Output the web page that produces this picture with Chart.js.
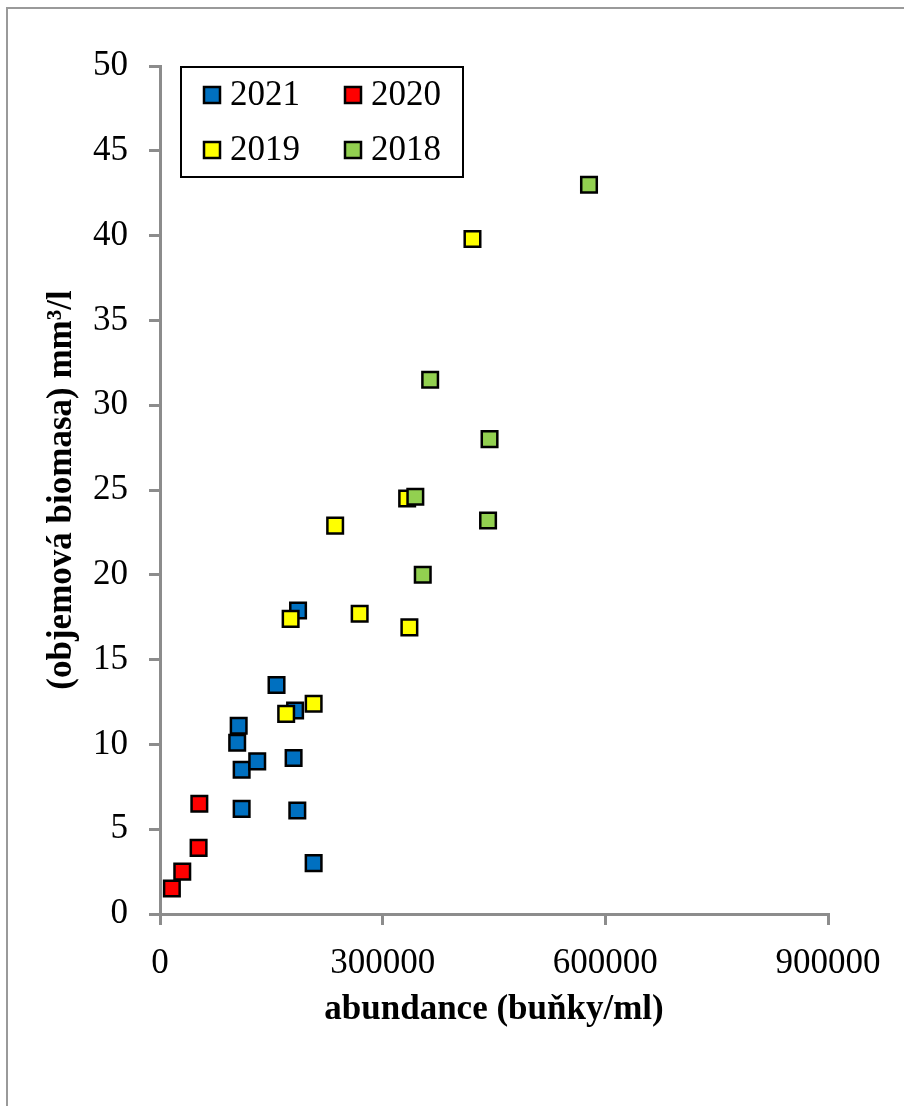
<!DOCTYPE html>
<html>
<head>
<meta charset="utf-8">
<script src="https://cdn.jsdelivr.net/npm/chart.js@4/dist/chart.umd.min.js"></script>
<style>
  html, body { margin: 0; padding: 0; background: #fff; }
  canvas { display: block; }
</style>
</head>
<body>
<canvas id="bio-chart" width="904" height="1106"></canvas>
<script>
// values: [abundance (cells/ml), biomass mm3/l]
const years = ['2021', '2020', '2019', '2018'];
const colors = ['#0070C0', '#FF0000', '#FFFF00', '#92D050'];

const abund2021 = [207000, 185000, 110000, 110000, 131000, 180000, 104000, 106000, 182000, 157000, 186000];
const biom2021 = [3.0, 6.1, 6.2, 8.5, 9.0, 9.2, 10.1, 11.1, 12.0, 13.5, 17.9];

const abund2020 = [16000, 30000, 52000, 53000];
const biom2020 = [1.5, 2.5, 3.9, 6.5];

const abund2019 = [170000, 207000, 176000, 269000, 336000, 236000, 333000, 421000];
const biom2019 = [11.8, 12.4, 17.4, 17.7, 16.9, 22.9, 24.5, 39.8];

const abund2018 = [354000, 344000, 364000, 444000, 442000, 578000];
const biom2018 = [20.0, 24.6, 31.5, 28.0, 23.2, 43.0];

const xTicks = [0, 300000, 600000, 900000];

const toPoints = (xs, ys) => xs.map((x, i) => ({ x, y: ys[i] }));
const series = [
  toPoints(abund2021, biom2021),
  toPoints(abund2020, biom2020),
  toPoints(abund2019, biom2019),
  toPoints(abund2018, biom2018),
];

const FONT = "'Liberation Serif', 'Times New Roman', serif";
const AXIS_GREY = '#8c8c8c';

// grey frame around the whole figure (only top and left edges are visible)
const frame = {
  id: 'frame',
  beforeDraw(chart) {
    const { ctx } = chart;
    ctx.save();
    ctx.strokeStyle = '#9a9a9a';
    ctx.lineWidth = 2;
    ctx.beginPath();
    ctx.moveTo(7, 1106);
    ctx.lineTo(7, 8);
    ctx.lineTo(904, 8);
    ctx.stroke();
    ctx.restore();
  },
};

// boxed legend inside the plot, two columns
const boxLegend = {
  id: 'boxLegend',
  afterDraw(chart) {
    const { ctx } = chart;
    const left = 181;
    const top = 67;
    ctx.save();
    ctx.fillStyle = '#fff';
    ctx.fillRect(left, top, 282, 110);
    ctx.strokeStyle = '#000';
    ctx.lineWidth = 2;
    ctx.strokeRect(left, top, 282, 110);
    ctx.font = `35px ${FONT}`;
    ctx.textBaseline = 'middle';
    chart.data.datasets.forEach((ds, i) => {
      const col = i % 2;
      const row = Math.floor(i / 2);
      const mx = 204 + col * 141;
      const my = 95 + row * 55;
      ctx.fillStyle = ds.backgroundColor;
      ctx.fillRect(mx, my - 8, 16, 16);
      ctx.lineWidth = 2.5;
      ctx.strokeStyle = '#000';
      ctx.strokeRect(mx, my - 8, 16, 16);
      ctx.fillStyle = '#000';
      ctx.fillText(ds.label, mx + 26, my + 1);
    });
    ctx.restore();
  },
};

const ctx = document.getElementById('bio-chart').getContext('2d');

new Chart(ctx, {
  type: 'scatter',
  data: {
    datasets: years.map((year, i) => ({
      label: year,
      data: series[i],
      backgroundColor: colors[i],
      borderColor: '#000',
      borderWidth: 2.5,
      pointStyle: 'rect',
      pointRadius: 11,
      pointHoverRadius: 11,
      order: years.length - i,
    })),
  },
  options: {
    responsive: false,
    devicePixelRatio: 1,
    animation: false,
    layout: {
      padding: { left: 0, top: 66, right: 76, bottom: 0 },
    },
    plugins: {
      legend: { display: false },
      tooltip: { enabled: false },
    },
    scales: {
      x: {
        type: 'linear',
        min: 0,
        max: 900000,
        afterFit(scale) { scale.height = 192; },
        afterBuildTicks(scale) { scale.ticks = xTicks.map((v) => ({ value: v })); },
        border: { color: AXIS_GREY, width: 3 },
        grid: { drawOnChartArea: false, color: AXIS_GREY, lineWidth: 3, tickLength: 11 },
        ticks: {
          color: '#000',
          font: { family: FONT, size: 35 },
          padding: 18,
          maxRotation: 0,
          callback: (v) => String(v),
        },
        title: {
          display: true,
          text: 'abundance (buňky/ml)',
          color: '#000',
          font: { family: FONT, size: 35, weight: 'bold' },
          padding: { top: 18, bottom: 75 },
        },
      },
      y: {
        min: 0,
        max: 50,
        afterFit(scale) { scale.width = 160; },
        border: { color: AXIS_GREY, width: 3 },
        grid: { drawOnChartArea: false, color: AXIS_GREY, lineWidth: 3, tickLength: 11 },
        ticks: {
          stepSize: 5,
          color: '#000',
          font: { family: FONT, size: 35 },
          padding: 21,
        },
        title: {
          display: true,
          text: '(objemová biomasa) mm³/l',
          color: '#000',
          font: { family: FONT, size: 35, weight: 'bold' },
          padding: { top: 41, bottom: 0 },
        },
      },
    },
  },
  plugins: [frame, boxLegend],
});
</script>
</body>
</html>
